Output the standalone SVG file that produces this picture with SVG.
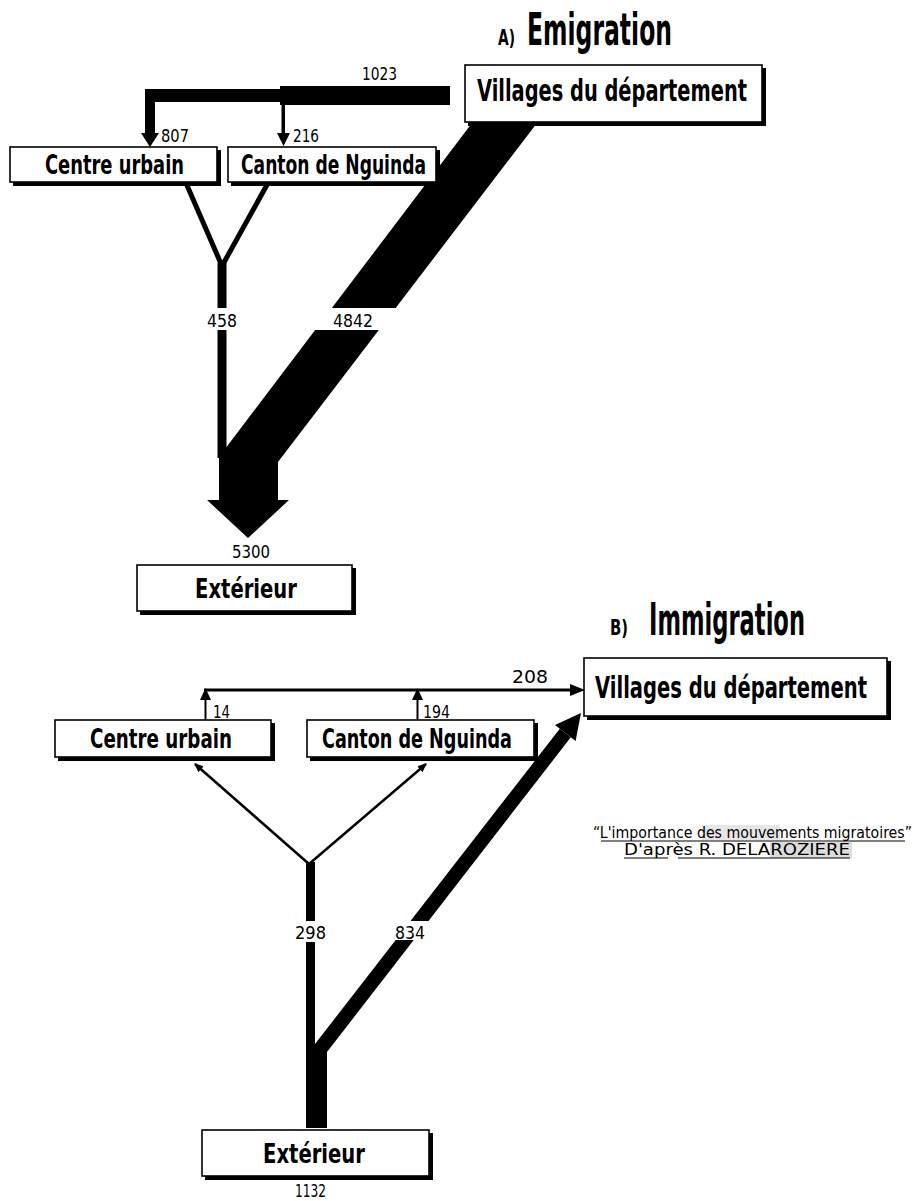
<svg xmlns="http://www.w3.org/2000/svg" width="914" height="1201" viewBox="0 0 914 1201">
<style>
text{font-family:"Liberation Sans Narrow","DejaVu Sans Condensed","Liberation Sans",sans-serif;font-weight:bold;fill:#000}
.box{fill:#fff;stroke:#000;stroke-width:1.6}
.sh{fill:#000}
.lbl{font-size:27px}
.big{font-size:25px}
.num{font-size:17px;font-weight:normal}
.ttl{font-size:39px}
.sub{font-size:22px}
.cr{font-size:15px;font-weight:normal}
.ln{stroke:#000;fill:none}
.gap{fill:#fff}
</style>
<defs>
<marker id="ah" markerWidth="10" markerHeight="10" refX="8" refY="5" orient="auto" markerUnits="userSpaceOnUse">
<path d="M0,1 L9,5 L0,9 Z" fill="#000"/>
</marker>
</defs>
<rect width="914" height="1201" fill="#fff"/>

<text class="sub" x="498" y="45" textLength="17" lengthAdjust="spacingAndGlyphs">A)</text>
<text class="ttl" transform="translate(527,45) scale(1,1.15)" x="0" y="0" textLength="145" lengthAdjust="spacingAndGlyphs">Emigration</text>
<text class="sub" x="610" y="635" textLength="18" lengthAdjust="spacingAndGlyphs">B)</text>
<text class="ttl" transform="translate(649,635) scale(1,1.15)" x="0" y="0" textLength="156" lengthAdjust="spacingAndGlyphs">Immigration</text>

<g id="connectors">
  <rect x="280" y="86" width="170" height="19"/>
  <rect x="145" y="89" width="140" height="13"/>
  <rect x="145" y="89" width="10" height="46"/>
  <polygon points="141,133 159,133 150,147"/>
  <rect x="281.5" y="100" width="3.5" height="35"/>
  <polygon points="277,133 290,133 283.5,146"/>
  <polyline class="ln" stroke-width="5" points="186,183 222,266 268,183"/>
  <rect x="217.5" y="263" width="9" height="195"/>
  <polygon points="472,123 537,123 278,462 278,500 289,500 248,538 207,500 219,500 219,455 222,453"/>
  <rect class="gap" x="300" y="308" width="110" height="22"/>
  <rect class="gap" x="210" y="308" width="24" height="22"/>
  <line class="ln" x1="204" y1="690" x2="572" y2="690" stroke-width="3"/>
  <polygon points="570,684 570,696 585,690"/>
  <line class="ln" x1="205.5" y1="720" x2="205.5" y2="698" stroke-width="2"/>
  <polygon points="200,700 211,700 205.5,688"/>
  <line class="ln" x1="417.5" y1="720" x2="417.5" y2="698" stroke-width="2"/>
  <polygon points="412,700 423,700 417.5,688"/>
  <line class="ln" x1="309" y1="864" x2="195" y2="764" stroke-width="2.5" marker-end="url(#ah)"/>
  <line class="ln" x1="309" y1="864" x2="426" y2="764" stroke-width="2.5" marker-end="url(#ah)"/>
  <rect x="306" y="862" width="9" height="266"/>
  <rect x="306" y="1045" width="21" height="83"/>
  <polygon points="559.8,728.7 570.8,737.3 327,1052 327,1060 315,1060 315,1044"/>
  <polygon points="555,725 575.6,741 581,713"/>
  <rect class="gap" x="385" y="921" width="55" height="19"/>
  <rect class="gap" x="298" y="921" width="26" height="21"/>
</g>

<g id="labels">
  <text class="num" x="362" y="80" textLength="35" lengthAdjust="spacingAndGlyphs">1023</text>
  <text class="num" x="161" y="142" textLength="28" lengthAdjust="spacingAndGlyphs">807</text>
  <text class="num" x="293" y="142" textLength="26" lengthAdjust="spacingAndGlyphs">216</text>
  <text class="num" x="207" y="327" textLength="30" lengthAdjust="spacingAndGlyphs">458</text>
  <text class="num" x="333" y="327" textLength="40" lengthAdjust="spacingAndGlyphs">4842</text>
  <text class="num" x="232" y="558" textLength="38" lengthAdjust="spacingAndGlyphs">5300</text>
  <text class="num" x="512" y="683" textLength="36" lengthAdjust="spacingAndGlyphs">208</text>
  <text class="num" x="213" y="718" textLength="17" lengthAdjust="spacingAndGlyphs">14</text>
  <text class="num" x="423" y="718" textLength="27" lengthAdjust="spacingAndGlyphs">194</text>
  <text class="num" x="295" y="939" textLength="31" lengthAdjust="spacingAndGlyphs">298</text>
  <text class="num" x="395" y="939" textLength="30" lengthAdjust="spacingAndGlyphs">834</text>
  <text class="num" x="295" y="1197" textLength="31" lengthAdjust="spacingAndGlyphs">1132</text>
</g>

<g id="villagesA">
  <rect class="sh" x="468" y="68" width="298" height="58"/>
  <rect class="box" x="465" y="65" width="297" height="57"/>
  <text class="big" transform="translate(477,101) scale(1,1.2)" x="0" y="0" textLength="270" lengthAdjust="spacingAndGlyphs">Villages du département</text>
</g>
<g id="centreA">
  <rect class="sh" x="13" y="150" width="208" height="36"/>
  <rect class="box" x="10" y="147" width="207" height="35"/>
  <text class="lbl" x="45" y="174" textLength="139" lengthAdjust="spacingAndGlyphs">Centre urbain</text>
</g>
<g id="cantonA">
  <rect class="sh" x="231" y="150" width="209" height="36"/>
  <rect class="box" x="228" y="147" width="208" height="35"/>
  <text class="lbl" x="241" y="174" textLength="185" lengthAdjust="spacingAndGlyphs">Canton de Nguinda</text>
</g>
<g id="exterieurA">
  <rect class="sh" x="140" y="568" width="216" height="47"/>
  <rect class="box" x="137" y="565" width="215" height="46"/>
  <text class="lbl" x="195" y="598" textLength="102" lengthAdjust="spacingAndGlyphs">Extérieur</text>
</g>

<g id="villagesB">
  <rect class="sh" x="587" y="661" width="304" height="59"/>
  <rect class="box" x="584" y="658" width="303" height="58"/>
  <text class="big" transform="translate(595,698) scale(1,1.2)" x="0" y="0" textLength="272" lengthAdjust="spacingAndGlyphs">Villages du département</text>
</g>
<g id="centreB">
  <rect class="sh" x="58" y="723" width="217" height="38"/>
  <rect class="box" x="55" y="720" width="216" height="37"/>
  <text class="lbl" x="90" y="748" textLength="142" lengthAdjust="spacingAndGlyphs">Centre urbain</text>
</g>
<g id="cantonB">
  <rect class="sh" x="310" y="723" width="228" height="38"/>
  <rect class="box" x="307" y="720" width="227" height="37"/>
  <text class="lbl" x="322" y="748" textLength="190" lengthAdjust="spacingAndGlyphs">Canton de Nguinda</text>
</g>
<g id="exterieurB">
  <rect class="sh" x="205" y="1133" width="228" height="47"/>
  <rect class="box" x="202" y="1130" width="227" height="46"/>
  <text class="lbl" x="263" y="1163" textLength="102" lengthAdjust="spacingAndGlyphs">Extérieur</text>
</g>

<g id="credit">
  <rect x="702" y="825" width="78" height="15" fill="#e6e6e6"/>
  <rect x="770" y="842" width="82" height="16" fill="#dcdcdc"/>
  <text class="cr" x="593" y="838" textLength="319" lengthAdjust="spacingAndGlyphs">“L'importance des mouvements migratoires”</text>
  <line x1="601" y1="841" x2="905" y2="841" stroke="#000" stroke-width="1"/>
  <text class="cr" x="624" y="855" textLength="226" lengthAdjust="spacingAndGlyphs">D'après  R. DELAROZIERE</text>
  <line x1="624" y1="858" x2="668" y2="858" stroke="#000" stroke-width="1"/>
  <line x1="678" y1="858" x2="850" y2="858" stroke="#000" stroke-width="1"/>
</g>
</svg>
